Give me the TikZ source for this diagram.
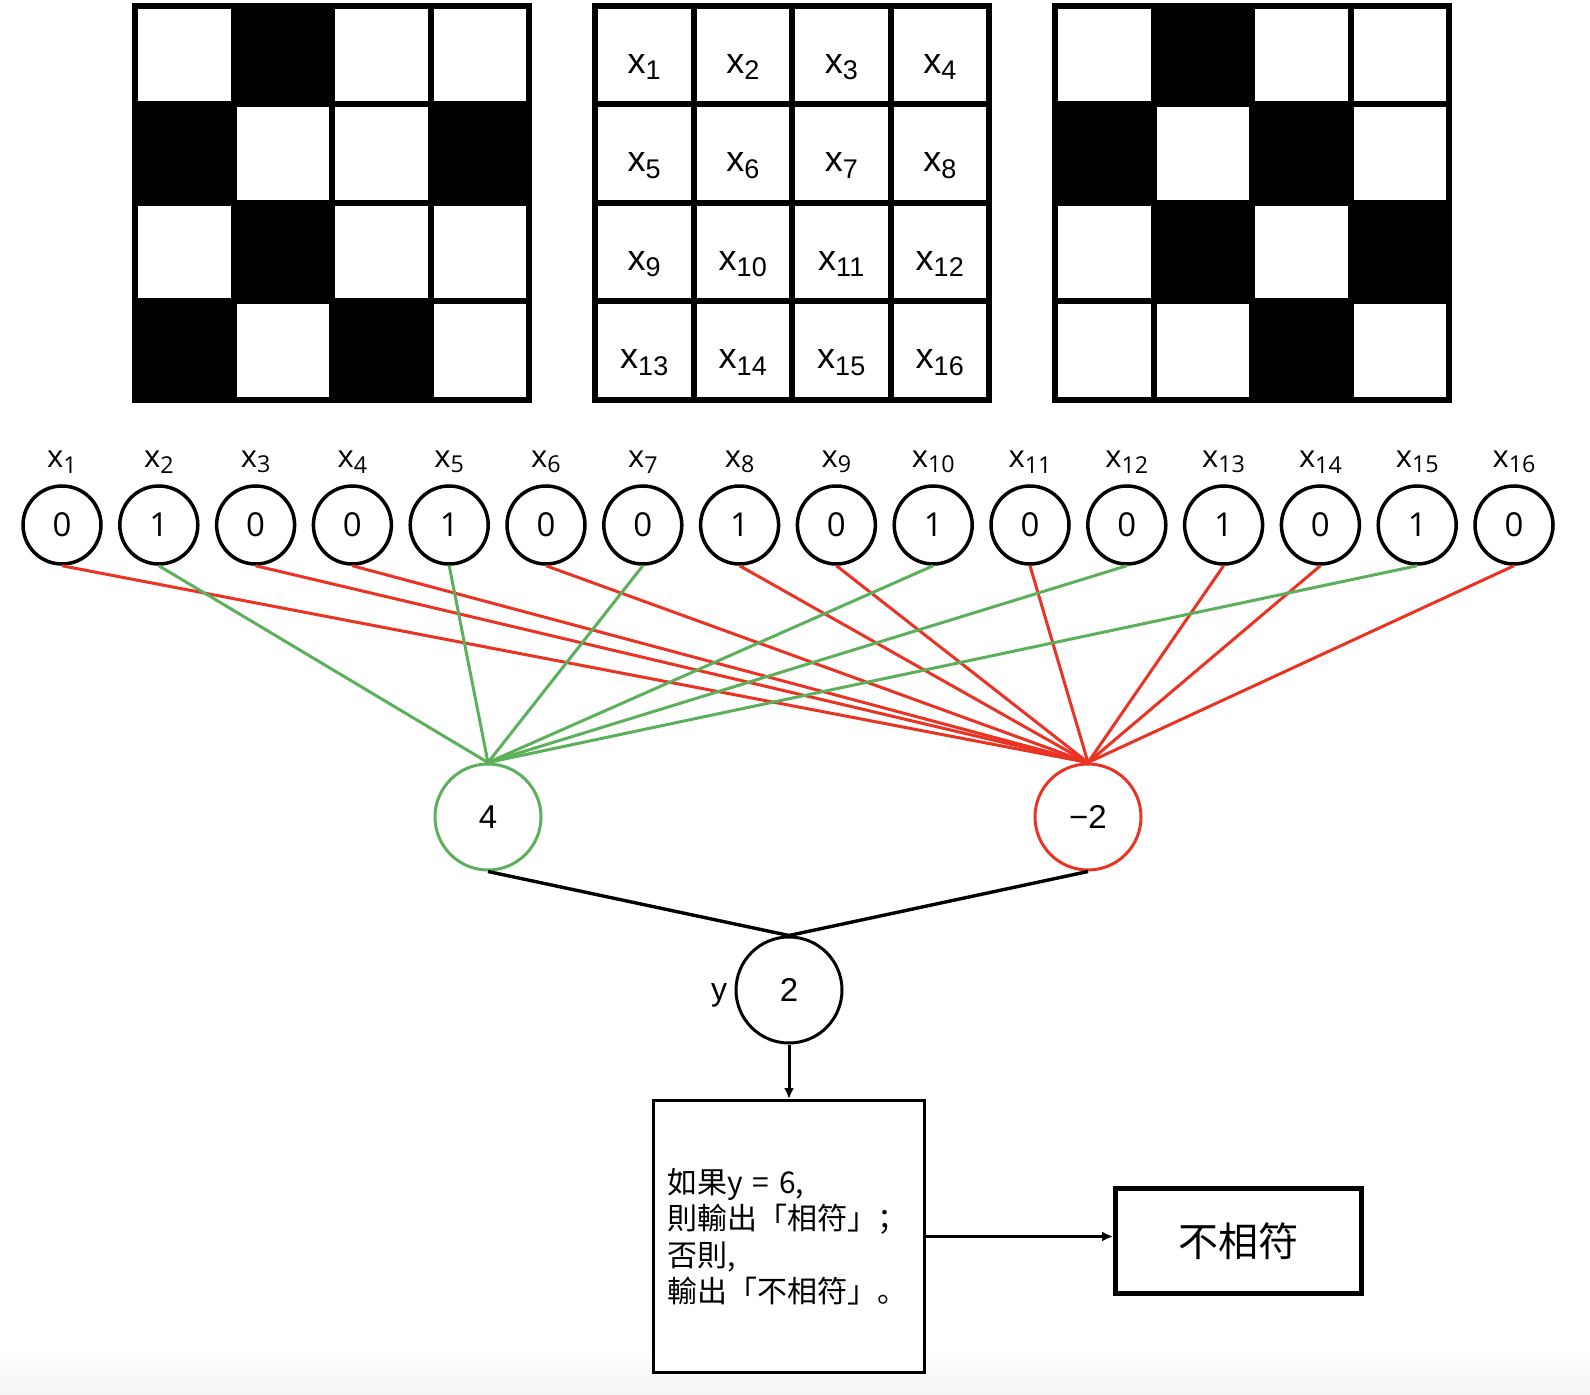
\documentclass[tikz,border=0pt]{standalone}
\usepackage{fontspec}
\usepackage{graphicx}
\setmainfont{Liberation Sans}
\newfontfamily\cjk{Noto Sans CJK TC}
\newfontfamily\cjkp{Noto Sans CJK SC}
\newfontfamily\opensans{Open Sans}
\usetikzlibrary{arrows.meta,positioning}
\definecolor{wgreen}{RGB}{92,176,92}
\definecolor{wred}{RGB}{234,51,35}
\newcommand{\xs}[1]{x\raisebox{-0.18em}{\scalebox{0.75}{#1}}}

\begin{document}
\begin{tikzpicture}[
  x=0.5pt, y=-0.5pt,
  inp/.style={draw, circle, line width=1.75pt, minimum size=39pt, inner sep=0pt, font=\opensans\fontsize{16.5}{18}\selectfont},
  xl/.style={inner sep=0pt, font=\opensans\fontsize{15.5}{18}\selectfont},
  cl/.style={inner sep=0pt, font=\fontsize{18}{22}\selectfont},
  hid/.style={draw, circle, line width=1.5pt, minimum size=53pt, inner sep=0pt, font=\fontsize{16.5}{18}\selectfont},
  yl/.style={inner sep=0pt, font=\fontsize{16}{18}\selectfont},
  grn/.style={draw=wgreen, line width=1.5pt},
  rd/.style={draw=wred, line width=1.5pt},
  lk/.style={line width=1.7pt},
  gl/.style={line width=3pt},
  b/.style={draw, line width=1.5pt, fill=white, align=left, text width=122pt, inner xsep=6.9pt, minimum height=136pt, font=\cjk\fontsize{15}{18.25}\selectfont},
  res/.style={draw, line width=2.5pt, minimum width=123pt, minimum height=52.5pt, font=\cjk\fontsize{20}{24}\selectfont},
  pf/.style={-{Latex[length=5.5pt, width=5pt]}, line width=1.5pt}
]
\useasboundingbox (0,0) rectangle (1590,1395);
% faint grey band along the bottom edge
\shade[top color=white, bottom color=black!4] (0,1345) rectangle (1590,1395);

% input pattern (left) and template (right)
\foreach \c/\r in {1/0,0/1,3/1,1/2,0/3,2/3}
  \fill (135+\c*98.5,6+\r*98.5) rectangle ++(98.5,98.5);
\foreach \c/\r in {1/0,0/1,2/1,1/2,3/2,2/3}
  \fill (1055+\c*98.5,6+\r*98.5) rectangle ++(98.5,98.5);
\foreach \ox in {135,595,1055} {
  \draw[gl] (\ox,6) rectangle ++(394,394);
  \foreach \k in {1,2,3} {
    \draw[gl] (\ox+\k*98.5,6) -- ++(0,394);
    \draw[gl] (\ox,6+\k*98.5) -- ++(394,0);
  }
}
% numbering of the cells
\foreach \r in {0,...,3}
  \foreach \c in {0,...,3} {
    \pgfmathtruncatemacro\n{4*\r+\c+1}
    \node[cl] (c\n) at (595+\c*98.5+49.25,6+\r*98.5+61) {\xs{\n}};
  }

% hidden and output neurons
\node[hid, draw=wgreen] (h1) at (488,817) {4};
\node[hid, draw=wred] (h2) at (1088,817) {−2};
\node[hid] (sum) at (789,990) {2};
\node[yl, left=3.5pt of sum, yshift=-2.75pt] (ylab) {y};

% inputs with their weighted links
\foreach \v/\w/\h [count=\i] in {0/rd/2,1/grn/1,0/rd/2,0/rd/2,1/grn/1,0/rd/2,0/grn/1,1/rd/2,
                                  0/rd/2,1/grn/1,0/rd/2,0/grn/1,1/rd/2,0/rd/2,1/grn/1,0/rd/2} {
  \node[inp] (x\i) at (62+\i*96.8-96.8,525) {\v};
  \node[xl] (l\i) at (62+\i*96.8-96.8,462) {\xs{\i}};
  \draw[\w] (x\i.south) -- (h\h.north);
}
\draw[lk] (h1.south) -- (sum.north); \draw[lk] (h2.south) -- (sum.north);

\node[b] (rule) at (789,1236.5) {如果y = 6,\\則輸出「相符」{\cjkp ；}\\否則,\\輸出「不相符」{\cjkp 。}};
\node[res] (verdict) at (1238.5,1241) {不相符};
\draw[pf] (sum) -- (rule);
\draw[pf] (rule.east) -- (rule.east -| verdict.west);
\end{tikzpicture}
\end{document}
